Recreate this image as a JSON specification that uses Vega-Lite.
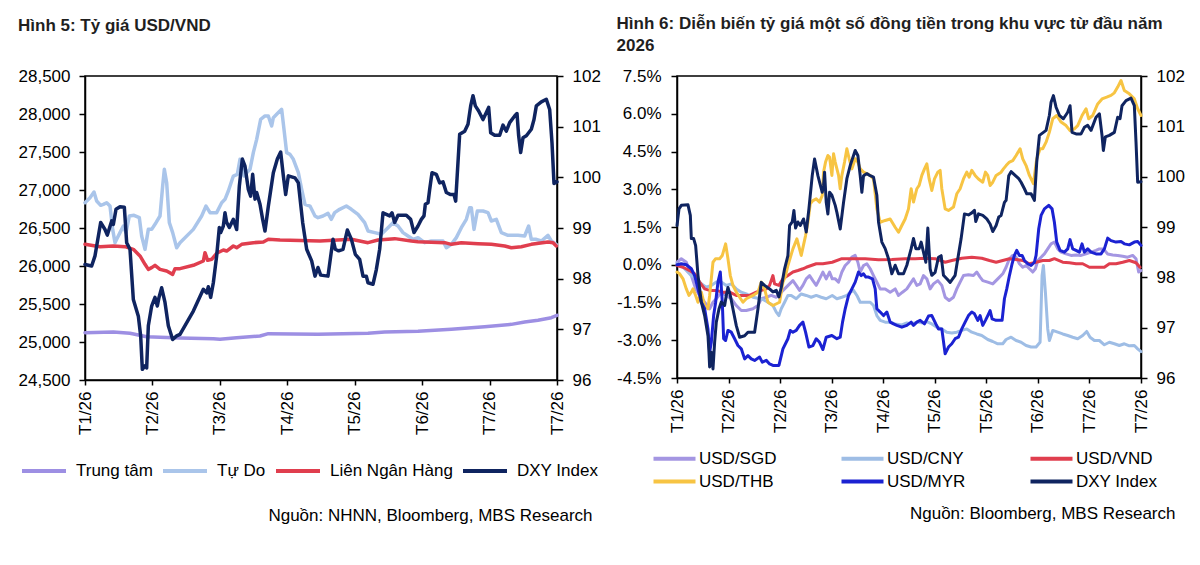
{
  "$schema": "https://vega.github.io/schema/vega-lite/v6.json",
  "background": "white",
  "padding": {"left": 17, "top": 14, "right": 0, "bottom": 0},
  "spacing": 13,
  "config": {
    "font": "Liberation Sans",
    "view": {"stroke": "#000", "strokeWidth": 1.5},
    "axis": {"labelFontSize": 17, "labelColor": "#000", "domainColor": "#000", "domainWidth": 1.5, "tickColor": "#000", "tickWidth": 1.5, "tickSize": 6, "grid": false, "labelFlush": false, "labelOverlap": false},
    "legend": {"labelFontSize": 17, "labelColor": "#000", "symbolType": "stroke", "symbolStrokeWidth": 4, "labelOffset": 6},
    "title": {"fontSize": 17, "fontWeight": "bold", "color": "#1f1f1f", "anchor": "start", "frame": "bounds", "lineHeight": 22},
    "line": {"strokeJoin": "round", "strokeCap": "round"}
  },
  "resolve": {"scale": {"color": "independent"}},
  "datasets": {
    "tt": [{"t":0,"v":25123},{"t":85,"v":25132},{"t":135,"v":25114},{"t":185,"v":25070},{"t":285,"v":25053},{"t":385,"v":25044},{"t":405,"v":25035},{"t":455,"v":25057},{"t":525,"v":25079},{"t":550,"v":25110},{"t":699,"v":25101},{"t":849,"v":25114},{"t":899,"v":25132},{"t":999,"v":25140},{"t":1099,"v":25167},{"t":1199,"v":25202},{"t":1279,"v":25232},{"t":1319,"v":25263},{"t":1359,"v":25285},{"t":1399,"v":25320},{"t":1416,"v":25351}],
    "td": [{"t":0,"v":26833},{"t":15,"v":26899},{"t":27,"v":26974},{"t":35,"v":26855},{"t":47,"v":26798},{"t":55,"v":26811},{"t":65,"v":26833},{"t":75,"v":26789},{"t":83,"v":26482},{"t":90,"v":26307},{"t":95,"v":26351},{"t":105,"v":26439},{"t":115,"v":26526},{"t":123,"v":26439},{"t":133,"v":26658},{"t":147,"v":26667},{"t":163,"v":26636},{"t":170,"v":26395},{"t":180,"v":26219},{"t":190,"v":26482},{"t":200,"v":26482},{"t":213,"v":26570},{"t":225,"v":26658},{"t":233,"v":27053},{"t":238,"v":27272},{"t":245,"v":27096},{"t":253,"v":26570},{"t":263,"v":26439},{"t":275,"v":26241},{"t":285,"v":26307},{"t":325,"v":26482},{"t":350,"v":26658},{"t":363,"v":26789},{"t":375,"v":26702},{"t":395,"v":26702},{"t":410,"v":26833},{"t":420,"v":26877},{"t":430,"v":26987},{"t":445,"v":27184},{"t":457,"v":27206},{"t":465,"v":27404},{"t":477,"v":27184},{"t":485,"v":27228},{"t":495,"v":27272},{"t":505,"v":27491},{"t":515,"v":27667},{"t":527,"v":27930},{"t":540,"v":27974},{"t":550,"v":27974},{"t":560,"v":27842},{"t":565,"v":27952},{"t":575,"v":27996},{"t":590,"v":28061},{"t":597,"v":27798},{"t":605,"v":27491},{"t":615,"v":27469},{"t":625,"v":27404},{"t":640,"v":27228},{"t":650,"v":27009},{"t":660,"v":26811},{"t":675,"v":26789},{"t":690,"v":26658},{"t":699,"v":26636},{"t":714,"v":26658},{"t":729,"v":26693},{"t":739,"v":26614},{"t":749,"v":26702},{"t":764,"v":26746},{"t":784,"v":26789},{"t":799,"v":26746},{"t":819,"v":26680},{"t":839,"v":26570},{"t":849,"v":26461},{"t":869,"v":26439},{"t":889,"v":26417},{"t":909,"v":26504},{"t":924,"v":26570},{"t":939,"v":26526},{"t":954,"v":26439},{"t":969,"v":26395},{"t":984,"v":26351},{"t":999,"v":26373},{"t":1019,"v":26307},{"t":1039,"v":26329},{"t":1074,"v":26329},{"t":1084,"v":26241},{"t":1099,"v":26285},{"t":1114,"v":26373},{"t":1129,"v":26504},{"t":1144,"v":26614},{"t":1154,"v":26768},{"t":1159,"v":26768},{"t":1167,"v":26482},{"t":1177,"v":26724},{"t":1194,"v":26724},{"t":1209,"v":26702},{"t":1219,"v":26592},{"t":1234,"v":26614},{"t":1249,"v":26439},{"t":1269,"v":26404},{"t":1299,"v":26404},{"t":1319,"v":26395},{"t":1331,"v":26526},{"t":1339,"v":26351},{"t":1354,"v":26351},{"t":1369,"v":26329},{"t":1389,"v":26404},{"t":1399,"v":26329},{"t":1414,"v":26285}],
    "lnh": [{"t":0,"v":26285},{"t":45,"v":26254},{"t":85,"v":26263},{"t":120,"v":26254},{"t":145,"v":26219},{"t":165,"v":26132},{"t":180,"v":26022},{"t":190,"v":25956},{"t":200,"v":25978},{"t":210,"v":26009},{"t":225,"v":25956},{"t":245,"v":25934},{"t":263,"v":25890},{"t":270,"v":25965},{"t":285,"v":25965},{"t":325,"v":26009},{"t":355,"v":26066},{"t":360,"v":26175},{"t":368,"v":26075},{"t":380,"v":26088},{"t":395,"v":26167},{"t":415,"v":26211},{"t":425,"v":26197},{"t":445,"v":26263},{"t":455,"v":26241},{"t":470,"v":26285},{"t":505,"v":26307},{"t":535,"v":26316},{"t":550,"v":26351},{"t":585,"v":26342},{"t":705,"v":26329},{"t":799,"v":26351},{"t":849,"v":26307},{"t":879,"v":26342},{"t":929,"v":26360},{"t":979,"v":26329},{"t":999,"v":26320},{"t":1079,"v":26307},{"t":1099,"v":26285},{"t":1129,"v":26307},{"t":1179,"v":26294},{"t":1219,"v":26285},{"t":1259,"v":26263},{"t":1279,"v":26241},{"t":1309,"v":26254},{"t":1339,"v":26285},{"t":1389,"v":26316},{"t":1404,"v":26307},{"t":1414,"v":26263}],
    "dxy5": [{"t":0,"v":98.28},{"t":20,"v":98.25},{"t":30,"v":98.45},{"t":47,"v":99.11},{"t":60,"v":98.97},{"t":67,"v":98.86},{"t":80,"v":99.14},{"t":85,"v":99.07},{"t":93,"v":99.37},{"t":105,"v":99.42},{"t":118,"v":99.41},{"t":125,"v":98.71},{"t":135,"v":98.58},{"t":145,"v":97.59},{"t":160,"v":97.26},{"t":167,"v":96.87},{"t":172,"v":96.21},{"t":180,"v":96.28},{"t":185,"v":96.24},{"t":190,"v":97.07},{"t":200,"v":97.46},{"t":210,"v":97.63},{"t":217,"v":97.46},{"t":222,"v":97.63},{"t":230,"v":97.82},{"t":240,"v":97.53},{"t":250,"v":97.07},{"t":263,"v":96.8},{"t":275,"v":96.87},{"t":285,"v":96.9},{"t":325,"v":97.36},{"t":355,"v":97.79},{"t":365,"v":97.72},{"t":370,"v":97.84},{"t":377,"v":97.63},{"t":385,"v":97.92},{"t":395,"v":98.45},{"t":403,"v":99.01},{"t":407,"v":98.91},{"t":415,"v":99.04},{"t":420,"v":99.3},{"t":425,"v":99.11},{"t":433,"v":99.01},{"t":445,"v":99.17},{"t":455,"v":98.97},{"t":463,"v":99.83},{"t":472,"v":100.36},{"t":480,"v":100.22},{"t":490,"v":99.76},{"t":497,"v":99.63},{"t":503,"v":100.06},{"t":510,"v":99.57},{"t":515,"v":99.7},{"t":525,"v":99.47},{"t":533,"v":99.17},{"t":540,"v":98.94},{"t":550,"v":99.43},{"t":565,"v":100.09},{"t":577,"v":100.36},{"t":587,"v":100.5},{"t":595,"v":100.03},{"t":602,"v":99.66},{"t":610,"v":100.03},{"t":630,"v":99.99},{"t":640,"v":99.89},{"t":653,"v":99.11},{"t":665,"v":98.58},{"t":680,"v":98.35},{"t":690,"v":98.05},{"t":699,"v":98.22},{"t":707,"v":98.07},{"t":729,"v":98.05},{"t":744,"v":98.78},{"t":751,"v":98.58},{"t":761,"v":98.55},{"t":774,"v":98.58},{"t":787,"v":98.96},{"t":799,"v":98.78},{"t":811,"v":98.48},{"t":824,"v":98.38},{"t":834,"v":98.05},{"t":844,"v":98.05},{"t":849,"v":97.92},{"t":864,"v":97.89},{"t":874,"v":98.18},{"t":884,"v":98.58},{"t":894,"v":99.3},{"t":904,"v":99.27},{"t":914,"v":99.24},{"t":921,"v":99.3},{"t":929,"v":99.11},{"t":939,"v":99.25},{"t":964,"v":99.25},{"t":977,"v":99.17},{"t":987,"v":98.91},{"t":999,"v":99.04},{"t":1009,"v":99.17},{"t":1017,"v":99.24},{"t":1021,"v":99.47},{"t":1029,"v":99.5},{"t":1034,"v":99.76},{"t":1041,"v":100.09},{"t":1054,"v":100.06},{"t":1064,"v":99.89},{"t":1074,"v":99.91},{"t":1084,"v":99.7},{"t":1097,"v":99.66},{"t":1107,"v":99.66},{"t":1112,"v":99.53},{"t":1124,"v":100.85},{"t":1139,"v":100.91},{"t":1149,"v":101.05},{"t":1157,"v":101.41},{"t":1164,"v":101.61},{"t":1171,"v":101.41},{"t":1181,"v":101.31},{"t":1194,"v":101.14},{"t":1204,"v":101.28},{"t":1211,"v":101.38},{"t":1217,"v":100.88},{"t":1229,"v":100.83},{"t":1244,"v":100.83},{"t":1254,"v":101.03},{"t":1264,"v":100.91},{"t":1274,"v":101.08},{"t":1289,"v":101.21},{"t":1296,"v":101.26},{"t":1301,"v":100.82},{"t":1307,"v":100.49},{"t":1314,"v":100.78},{"t":1324,"v":100.82},{"t":1339,"v":100.95},{"t":1347,"v":101.14},{"t":1354,"v":101.41},{"t":1369,"v":101.49},{"t":1384,"v":101.54},{"t":1394,"v":101.34},{"t":1401,"v":100.68},{"t":1407,"v":99.88},{"t":1416,"v":99.91}],
    "sgd": [{"t":0,"v":0.1},{"t":13,"v":0.24},{"t":28,"v":0.1},{"t":43,"v":-0.43},{"t":56,"v":-0.96},{"t":68,"v":-1.22},{"t":83,"v":-1.49},{"t":98,"v":-1.75},{"t":108,"v":-1.49},{"t":118,"v":-1.35},{"t":133,"v":-1.09},{"t":148,"v":-1.22},{"t":163,"v":-1.35},{"t":178,"v":-1.62},{"t":193,"v":-1.82},{"t":208,"v":-1.82},{"t":228,"v":-1.75},{"t":243,"v":-1.62},{"t":253,"v":-1.35},{"t":268,"v":-1.29},{"t":283,"v":-1.22},{"t":298,"v":-1.29},{"t":308,"v":-1.16},{"t":323,"v":-0.96},{"t":338,"v":-0.76},{"t":348,"v":-0.63},{"t":358,"v":-0.82},{"t":368,"v":-1.02},{"t":378,"v":-0.82},{"t":388,"v":-0.56},{"t":398,"v":-0.43},{"t":408,"v":-0.63},{"t":418,"v":-0.82},{"t":428,"v":-0.56},{"t":438,"v":-0.29},{"t":448,"v":-0.56},{"t":458,"v":-0.29},{"t":466,"v":-0.56},{"t":475,"v":-0.56},{"t":485,"v":-0.69},{"t":495,"v":-0.29},{"t":505,"v":-0.03},{"t":515,"v":0.1},{"t":525,"v":0.3},{"t":535,"v":0.37},{"t":543,"v":0.1},{"t":550,"v":-0.29},{"t":560,"v":-0.03},{"t":570,"v":0.04},{"t":580,"v":-0.16},{"t":590,"v":-0.43},{"t":600,"v":-0.69},{"t":610,"v":-0.96},{"t":625,"v":-0.96},{"t":640,"v":-1.09},{"t":655,"v":-0.96},{"t":665,"v":-1.22},{"t":677,"v":-1.09},{"t":690,"v":-0.96},{"t":700,"v":-0.76},{"t":710,"v":-0.56},{"t":720,"v":-0.82},{"t":730,"v":-0.76},{"t":740,"v":-0.43},{"t":750,"v":-0.56},{"t":760,"v":-0.96},{"t":770,"v":-0.76},{"t":783,"v":-0.63},{"t":795,"v":-0.82},{"t":805,"v":-1.29},{"t":817,"v":-1.42},{"t":830,"v":-1.29},{"t":840,"v":-0.96},{"t":850,"v":-0.69},{"t":860,"v":-0.43},{"t":875,"v":-0.4},{"t":890,"v":-0.43},{"t":900,"v":-0.29},{"t":910,"v":-0.49},{"t":918,"v":-0.63},{"t":933,"v":-0.69},{"t":948,"v":-0.76},{"t":963,"v":-0.56},{"t":978,"v":-0.36},{"t":988,"v":-0.1},{"t":998,"v":0.24},{"t":1008,"v":0.37},{"t":1018,"v":0.3},{"t":1028,"v":0.04},{"t":1038,"v":-0.1},{"t":1048,"v":-0.03},{"t":1058,"v":-0.16},{"t":1068,"v":-0.29},{"t":1076,"v":-0.16},{"t":1083,"v":0.17},{"t":1093,"v":0.3},{"t":1103,"v":0.43},{"t":1113,"v":0.63},{"t":1123,"v":0.83},{"t":1133,"v":0.9},{"t":1143,"v":0.63},{"t":1153,"v":0.5},{"t":1168,"v":0.43},{"t":1183,"v":0.37},{"t":1198,"v":0.39},{"t":1213,"v":0.37},{"t":1228,"v":0.43},{"t":1243,"v":0.5},{"t":1258,"v":0.57},{"t":1268,"v":0.63},{"t":1280,"v":0.63},{"t":1293,"v":0.43},{"t":1308,"v":0.39},{"t":1323,"v":0.37},{"t":1338,"v":0.34},{"t":1353,"v":0.3},{"t":1368,"v":0.37},{"t":1378,"v":0.24},{"t":1386,"v":-0.29},{"t":1393,"v":-0.23}],
    "cny": [{"t":0,"v":0.04},{"t":13,"v":-0.03},{"t":28,"v":-0.23},{"t":43,"v":-0.43},{"t":58,"v":-0.56},{"t":73,"v":-0.76},{"t":88,"v":-0.89},{"t":103,"v":-0.82},{"t":118,"v":-0.69},{"t":133,"v":-0.69},{"t":148,"v":-0.82},{"t":163,"v":-0.76},{"t":178,"v":-0.96},{"t":193,"v":-1.09},{"t":208,"v":-1.16},{"t":228,"v":-1.29},{"t":243,"v":-1.33},{"t":258,"v":-1.38},{"t":273,"v":-1.49},{"t":288,"v":-1.62},{"t":298,"v":-1.88},{"t":306,"v":-2.02},{"t":313,"v":-1.75},{"t":323,"v":-1.49},{"t":333,"v":-1.22},{"t":343,"v":-1.22},{"t":358,"v":-1.35},{"t":373,"v":-1.16},{"t":388,"v":-1.22},{"t":403,"v":-1.29},{"t":418,"v":-1.22},{"t":433,"v":-1.29},{"t":448,"v":-1.35},{"t":466,"v":-1.22},{"t":480,"v":-1.35},{"t":495,"v":-1.29},{"t":510,"v":-1.22},{"t":520,"v":-1.09},{"t":530,"v":-1.02},{"t":540,"v":-1.22},{"t":550,"v":-1.49},{"t":565,"v":-1.49},{"t":580,"v":-1.49},{"t":590,"v":-1.62},{"t":600,"v":-2.02},{"t":610,"v":-2.21},{"t":625,"v":-2.28},{"t":640,"v":-2.28},{"t":655,"v":-2.35},{"t":675,"v":-2.39},{"t":690,"v":-2.31},{"t":705,"v":-2.35},{"t":720,"v":-2.28},{"t":735,"v":-2.31},{"t":750,"v":-2.26},{"t":765,"v":-2.35},{"t":780,"v":-2.48},{"t":795,"v":-2.55},{"t":810,"v":-2.68},{"t":825,"v":-2.71},{"t":840,"v":-2.68},{"t":855,"v":-2.61},{"t":870,"v":-2.55},{"t":885,"v":-2.68},{"t":900,"v":-2.75},{"t":915,"v":-2.81},{"t":933,"v":-2.97},{"t":948,"v":-3.05},{"t":963,"v":-3.14},{"t":978,"v":-3.14},{"t":988,"v":-2.97},{"t":1003,"v":-2.88},{"t":1018,"v":-3.01},{"t":1033,"v":-3.08},{"t":1048,"v":-3.21},{"t":1063,"v":-3.27},{"t":1078,"v":-3.27},{"t":1090,"v":-3.08},{"t":1096,"v":-0.43},{"t":1100,"v":-0.03},{"t":1106,"v":-1.09},{"t":1113,"v":-2.55},{"t":1118,"v":-3.01},{"t":1128,"v":-2.61},{"t":1143,"v":-2.68},{"t":1158,"v":-2.75},{"t":1173,"v":-2.81},{"t":1188,"v":-2.88},{"t":1203,"v":-2.94},{"t":1218,"v":-2.81},{"t":1230,"v":-2.65},{"t":1240,"v":-2.88},{"t":1253,"v":-3.01},{"t":1268,"v":-3.01},{"t":1283,"v":-3.18},{"t":1298,"v":-3.08},{"t":1313,"v":-3.14},{"t":1328,"v":-3.21},{"t":1343,"v":-3.14},{"t":1358,"v":-3.22},{"t":1373,"v":-3.21},{"t":1383,"v":-3.34},{"t":1393,"v":-3.45}],
    "vnd": [{"t":0,"v":-0.03},{"t":18,"v":-0.1},{"t":38,"v":-0.23},{"t":53,"v":-0.36},{"t":68,"v":-0.69},{"t":83,"v":-0.96},{"t":98,"v":-1.02},{"t":118,"v":-1.02},{"t":138,"v":-1.09},{"t":158,"v":-1.09},{"t":178,"v":-1.22},{"t":198,"v":-1.22},{"t":218,"v":-1.22},{"t":238,"v":-1.09},{"t":253,"v":-1.02},{"t":268,"v":-0.96},{"t":278,"v":-0.82},{"t":288,"v":-0.43},{"t":293,"v":-0.76},{"t":306,"v":-0.82},{"t":318,"v":-0.56},{"t":333,"v":-0.43},{"t":348,"v":-0.29},{"t":363,"v":-0.23},{"t":378,"v":-0.16},{"t":388,"v":-0.1},{"t":403,"v":-0.03},{"t":418,"v":0.04},{"t":438,"v":0.04},{"t":466,"v":0.1},{"t":495,"v":0.24},{"t":525,"v":0.24},{"t":565,"v":0.24},{"t":605,"v":0.2},{"t":645,"v":0.21},{"t":685,"v":0.24},{"t":715,"v":0.24},{"t":745,"v":0.26},{"t":775,"v":0.24},{"t":805,"v":0.1},{"t":825,"v":0.17},{"t":855,"v":0.26},{"t":885,"v":0.3},{"t":915,"v":0.26},{"t":938,"v":0.17},{"t":958,"v":0.1},{"t":978,"v":0.17},{"t":998,"v":0.24},{"t":1018,"v":0.21},{"t":1038,"v":0.17},{"t":1058,"v":0.04},{"t":1078,"v":0.1},{"t":1098,"v":0.17},{"t":1118,"v":0.17},{"t":1133,"v":0.24},{"t":1158,"v":0.1},{"t":1178,"v":0.08},{"t":1198,"v":0.04},{"t":1218,"v":0.04},{"t":1238,"v":-0.1},{"t":1263,"v":-0.1},{"t":1283,"v":-0.1},{"t":1298,"v":0.04},{"t":1318,"v":0.04},{"t":1338,"v":0.1},{"t":1358,"v":0.17},{"t":1378,"v":0.08},{"t":1390,"v":-0.1}],
    "thb": [{"t":0,"v":-0.29},{"t":8,"v":-0.36},{"t":18,"v":-0.56},{"t":28,"v":-0.96},{"t":36,"v":-1.22},{"t":43,"v":-1.09},{"t":48,"v":-0.96},{"t":56,"v":-1.22},{"t":63,"v":-1.49},{"t":73,"v":-1.09},{"t":83,"v":-1.62},{"t":93,"v":-1.75},{"t":98,"v":-1.22},{"t":108,"v":0.1},{"t":116,"v":0.24},{"t":128,"v":0.24},{"t":136,"v":0.37},{"t":146,"v":0.83},{"t":153,"v":0.24},{"t":160,"v":-0.43},{"t":168,"v":-0.82},{"t":178,"v":-1.09},{"t":188,"v":-1.29},{"t":198,"v":-1.49},{"t":208,"v":-1.35},{"t":228,"v":-1.22},{"t":243,"v":-1.09},{"t":253,"v":-0.69},{"t":263,"v":-0.96},{"t":273,"v":-1.49},{"t":288,"v":-1.62},{"t":308,"v":-1.49},{"t":318,"v":-0.69},{"t":326,"v":-0.43},{"t":333,"v":-0.03},{"t":348,"v":0.63},{"t":360,"v":1.03},{"t":373,"v":0.37},{"t":386,"v":1.16},{"t":393,"v":1.69},{"t":400,"v":2.42},{"t":408,"v":2.55},{"t":418,"v":2.62},{"t":428,"v":2.49},{"t":436,"v":2.75},{"t":440,"v":3.68},{"t":446,"v":4.08},{"t":453,"v":4.34},{"t":458,"v":4.28},{"t":465,"v":3.55},{"t":470,"v":4.41},{"t":475,"v":4.08},{"t":485,"v":3.55},{"t":490,"v":3.02},{"t":495,"v":3.55},{"t":503,"v":4.08},{"t":510,"v":4.61},{"t":517,"v":4.21},{"t":525,"v":3.81},{"t":535,"v":4.21},{"t":543,"v":4.08},{"t":550,"v":3.81},{"t":560,"v":3.68},{"t":580,"v":3.55},{"t":590,"v":3.41},{"t":600,"v":2.22},{"t":610,"v":1.69},{"t":625,"v":1.76},{"t":640,"v":1.82},{"t":655,"v":1.49},{"t":665,"v":1.29},{"t":675,"v":1.56},{"t":685,"v":1.82},{"t":695,"v":2.22},{"t":703,"v":3.02},{"t":710,"v":2.49},{"t":720,"v":3.02},{"t":727,"v":3.15},{"t":735,"v":3.55},{"t":743,"v":3.81},{"t":750,"v":4.01},{"t":757,"v":3.41},{"t":765,"v":2.95},{"t":773,"v":3.41},{"t":783,"v":3.68},{"t":790,"v":3.75},{"t":795,"v":3.02},{"t":805,"v":2.22},{"t":815,"v":2.16},{"t":830,"v":2.29},{"t":840,"v":2.82},{"t":850,"v":3.02},{"t":860,"v":3.41},{"t":870,"v":3.68},{"t":877,"v":3.48},{"t":885,"v":3.75},{"t":895,"v":3.55},{"t":905,"v":3.41},{"t":918,"v":3.28},{"t":926,"v":3.68},{"t":933,"v":3.55},{"t":940,"v":3.15},{"t":948,"v":3.28},{"t":958,"v":3.55},{"t":973,"v":3.68},{"t":980,"v":3.81},{"t":988,"v":3.94},{"t":998,"v":4.08},{"t":1008,"v":4.14},{"t":1018,"v":4.34},{"t":1030,"v":4.61},{"t":1038,"v":4.21},{"t":1048,"v":3.94},{"t":1058,"v":3.55},{"t":1070,"v":3.22},{"t":1080,"v":4.21},{"t":1090,"v":4.61},{"t":1098,"v":4.61},{"t":1108,"v":4.87},{"t":1118,"v":5.27},{"t":1128,"v":5.8},{"t":1140,"v":5.93},{"t":1153,"v":5.67},{"t":1168,"v":5.53},{"t":1180,"v":5.33},{"t":1193,"v":5.4},{"t":1203,"v":5.53},{"t":1216,"v":5.93},{"t":1228,"v":6.2},{"t":1236,"v":5.8},{"t":1248,"v":5.93},{"t":1263,"v":6.39},{"t":1276,"v":6.59},{"t":1290,"v":6.66},{"t":1303,"v":6.73},{"t":1313,"v":6.83},{"t":1323,"v":7.06},{"t":1333,"v":7.32},{"t":1343,"v":6.92},{"t":1358,"v":6.79},{"t":1373,"v":6.59},{"t":1383,"v":6.2},{"t":1393,"v":5.93}],
    "myr": [{"t":0,"v":0},{"t":13,"v":0.04},{"t":28,"v":0},{"t":43,"v":-0.16},{"t":53,"v":-0.43},{"t":63,"v":-0.96},{"t":73,"v":-1.49},{"t":83,"v":-1.75},{"t":93,"v":-2.55},{"t":98,"v":-3.47},{"t":103,"v":-3.08},{"t":110,"v":-2.02},{"t":116,"v":-1.49},{"t":123,"v":-0.69},{"t":130,"v":-0.29},{"t":136,"v":-1.49},{"t":140,"v":-2.94},{"t":146,"v":-3.01},{"t":153,"v":-2.61},{"t":163,"v":-2.68},{"t":173,"v":-2.94},{"t":183,"v":-3.21},{"t":193,"v":-3.34},{"t":203,"v":-3.74},{"t":213,"v":-3.61},{"t":223,"v":-3.74},{"t":233,"v":-3.8},{"t":248,"v":-3.67},{"t":256,"v":-3.87},{"t":268,"v":-3.8},{"t":278,"v":-3.94},{"t":288,"v":-4},{"t":306,"v":-4},{"t":318,"v":-3.34},{"t":333,"v":-2.94},{"t":340,"v":-2.61},{"t":348,"v":-2.68},{"t":358,"v":-2.61},{"t":368,"v":-2.41},{"t":378,"v":-2.28},{"t":386,"v":-2.68},{"t":396,"v":-3.27},{"t":408,"v":-3.21},{"t":418,"v":-2.94},{"t":428,"v":-3.08},{"t":438,"v":-3.37},{"t":448,"v":-2.88},{"t":465,"v":-2.81},{"t":480,"v":-2.94},{"t":490,"v":-2.88},{"t":497,"v":-2.28},{"t":505,"v":-1.75},{"t":515,"v":-1.22},{"t":525,"v":-0.96},{"t":535,"v":-0.69},{"t":545,"v":-0.29},{"t":553,"v":-0.43},{"t":560,"v":-0.36},{"t":567,"v":-0.49},{"t":575,"v":-0.49},{"t":587,"v":-0.56},{"t":595,"v":-0.96},{"t":600,"v":-1.75},{"t":610,"v":-1.88},{"t":620,"v":-2.02},{"t":630,"v":-1.88},{"t":640,"v":-2.28},{"t":650,"v":-2.35},{"t":660,"v":-2.41},{"t":675,"v":-2.48},{"t":690,"v":-2.41},{"t":703,"v":-2.28},{"t":710,"v":-2.41},{"t":720,"v":-2.28},{"t":730,"v":-2.21},{"t":743,"v":-2.35},{"t":755,"v":-2.04},{"t":765,"v":-2.02},{"t":777,"v":-2.35},{"t":785,"v":-2.55},{"t":795,"v":-2.55},{"t":805,"v":-3.54},{"t":815,"v":-3.27},{"t":825,"v":-3.14},{"t":835,"v":-2.94},{"t":845,"v":-2.88},{"t":855,"v":-2.55},{"t":865,"v":-2.28},{"t":875,"v":-2.02},{"t":885,"v":-1.88},{"t":893,"v":-1.95},{"t":903,"v":-2.21},{"t":910,"v":-2.02},{"t":918,"v":-2.41},{"t":926,"v":-2.21},{"t":933,"v":-2.02},{"t":940,"v":-1.82},{"t":946,"v":-2.15},{"t":958,"v":-2.21},{"t":976,"v":-2.21},{"t":983,"v":-1.35},{"t":990,"v":-0.96},{"t":998,"v":-0.43},{"t":1006,"v":0.04},{"t":1013,"v":0.37},{"t":1020,"v":0.57},{"t":1028,"v":0.37},{"t":1036,"v":0.37},{"t":1043,"v":0.17},{"t":1053,"v":0.04},{"t":1063,"v":-0.03},{"t":1073,"v":0.1},{"t":1078,"v":0.37},{"t":1086,"v":1.43},{"t":1093,"v":1.96},{"t":1103,"v":2.22},{"t":1116,"v":2.36},{"t":1126,"v":2.22},{"t":1133,"v":1.69},{"t":1140,"v":0.9},{"t":1150,"v":0.57},{"t":1163,"v":0.5},{"t":1173,"v":0.63},{"t":1180,"v":1},{"t":1188,"v":0.63},{"t":1198,"v":0.57},{"t":1208,"v":0.5},{"t":1216,"v":0.83},{"t":1223,"v":0.5},{"t":1233,"v":0.63},{"t":1243,"v":0.5},{"t":1258,"v":0.43},{"t":1273,"v":0.43},{"t":1283,"v":0.63},{"t":1293,"v":1.06},{"t":1303,"v":0.96},{"t":1318,"v":0.9},{"t":1333,"v":0.92},{"t":1343,"v":0.83},{"t":1358,"v":0.79},{"t":1373,"v":0.9},{"t":1383,"v":0.92},{"t":1393,"v":0.77}],
    "dxy6": [{"t":0,"v":99.03},{"t":6,"v":99.36},{"t":13,"v":99.43},{"t":33,"v":99.44},{"t":40,"v":99.23},{"t":43,"v":98.77},{"t":50,"v":98.77},{"t":56,"v":98.63},{"t":63,"v":98.04},{"t":73,"v":97.51},{"t":83,"v":97.24},{"t":93,"v":96.84},{"t":96,"v":96.51},{"t":98,"v":96.22},{"t":103,"v":96.51},{"t":108,"v":96.18},{"t":113,"v":96.71},{"t":118,"v":97.11},{"t":126,"v":97.37},{"t":133,"v":97.51},{"t":143,"v":97.44},{"t":148,"v":97.64},{"t":153,"v":97.8},{"t":160,"v":97.64},{"t":168,"v":97.37},{"t":178,"v":97.04},{"t":188,"v":96.81},{"t":203,"v":96.84},{"t":213,"v":96.91},{"t":233,"v":96.91},{"t":243,"v":97.37},{"t":253,"v":97.9},{"t":263,"v":97.84},{"t":278,"v":97.77},{"t":288,"v":97.71},{"t":298,"v":97.74},{"t":306,"v":97.61},{"t":313,"v":97.8},{"t":323,"v":98.17},{"t":333,"v":98.43},{"t":338,"v":99.03},{"t":346,"v":99.1},{"t":351,"v":99.33},{"t":356,"v":98.98},{"t":363,"v":99.1},{"t":370,"v":99.03},{"t":380,"v":99.16},{"t":388,"v":98.9},{"t":396,"v":99.36},{"t":406,"v":100.02},{"t":413,"v":100.35},{"t":423,"v":100.02},{"t":428,"v":99.89},{"t":436,"v":99.69},{"t":440,"v":99.82},{"t":443,"v":100.09},{"t":448,"v":99.49},{"t":453,"v":99.26},{"t":458,"v":99.69},{"t":465,"v":99.63},{"t":475,"v":99.43},{"t":480,"v":99.29},{"t":490,"v":98.96},{"t":500,"v":99.49},{"t":510,"v":99.96},{"t":520,"v":100.22},{"t":535,"v":100.52},{"t":543,"v":100.42},{"t":550,"v":100.02},{"t":555,"v":99.69},{"t":560,"v":100.02},{"t":570,"v":100.06},{"t":580,"v":100.02},{"t":590,"v":99.99},{"t":600,"v":99.63},{"t":605,"v":99.1},{"t":615,"v":98.7},{"t":625,"v":98.57},{"t":635,"v":98.37},{"t":645,"v":98.07},{"t":655,"v":98.24},{"t":665,"v":98.07},{"t":680,"v":98.07},{"t":690,"v":98.24},{"t":703,"v":98.57},{"t":710,"v":98.77},{"t":717,"v":98.57},{"t":727,"v":98.57},{"t":733,"v":98.7},{"t":740,"v":98.5},{"t":747,"v":98.3},{"t":753,"v":98.98},{"t":760,"v":98.17},{"t":765,"v":98.04},{"t":775,"v":98.1},{"t":785,"v":98.4},{"t":793,"v":98.43},{"t":800,"v":98.04},{"t":810,"v":97.97},{"t":820,"v":97.9},{"t":835,"v":98.04},{"t":843,"v":98.37},{"t":853,"v":98.77},{"t":863,"v":99.26},{"t":875,"v":99.24},{"t":885,"v":99.28},{"t":893,"v":99.33},{"t":897,"v":99.11},{"t":905,"v":99.26},{"t":918,"v":99.23},{"t":930,"v":99.16},{"t":940,"v":99.06},{"t":948,"v":98.91},{"t":958,"v":99.03},{"t":966,"v":99.2},{"t":973,"v":99.23},{"t":978,"v":99.36},{"t":983,"v":99.49},{"t":988,"v":99.53},{"t":996,"v":100.02},{"t":1003,"v":100.1},{"t":1016,"v":100.02},{"t":1026,"v":99.96},{"t":1033,"v":99.89},{"t":1043,"v":99.76},{"t":1050,"v":99.66},{"t":1063,"v":99.66},{"t":1073,"v":99.53},{"t":1080,"v":100.29},{"t":1088,"v":100.82},{"t":1098,"v":100.87},{"t":1108,"v":100.92},{"t":1118,"v":101.22},{"t":1123,"v":101.48},{"t":1130,"v":101.61},{"t":1138,"v":101.38},{"t":1148,"v":101.22},{"t":1160,"v":101.15},{"t":1173,"v":101.28},{"t":1180,"v":101.41},{"t":1186,"v":100.88},{"t":1198,"v":100.85},{"t":1213,"v":100.85},{"t":1223,"v":100.98},{"t":1233,"v":101.02},{"t":1243,"v":100.92},{"t":1258,"v":101.18},{"t":1268,"v":101.25},{"t":1276,"v":100.82},{"t":1280,"v":100.52},{"t":1286,"v":100.79},{"t":1298,"v":100.82},{"t":1313,"v":100.88},{"t":1323,"v":101.18},{"t":1330,"v":101.15},{"t":1336,"v":101.41},{"t":1348,"v":101.51},{"t":1363,"v":101.56},{"t":1373,"v":101.41},{"t":1378,"v":100.69},{"t":1383,"v":99.89},{"t":1393,"v":99.9}]
  },
  "hconcat": [
    {
      "title": {"text": "Hình 5: Tỷ giá USD/VND", "offset": 32},
      "width": 472,
      "height": 304,
      "encoding": {
        "x": {
          "field": "t", "type": "quantitative",
          "scale": {"domain": [0, 1416], "nice": false, "zero": false},
          "axis": {
            "values": [0, 202.29, 404.57, 606.86, 809.14, 1011.43, 1213.71, 1416],
            "labelExpr": "['T1/26','T2/26','T3/26','T4/26','T5/26','T6/26','T7/26','T7/26'][round(datum.value / 202.29)]",
            "labelAngle": -90, "labelPadding": 6, "tickSize": 5,
            "title": "Nguồn: NHNN, Bloomberg, MBS Research",
            "titleFontSize": 17, "titleFontWeight": "normal", "titleColor": "#000",
            "titleAlign": "right", "titleBaseline": "middle", "titleX": 507, "titleY": 135
          }
        }
      },
      "layer": [
        {
          "encoding": {
            "y": {
              "field": "v", "type": "quantitative",
              "scale": {"domain": [24500, 28500], "nice": false, "zero": false},
              "axis": {"values": [24500, 25000, 25500, 26000, 26500, 27000, 27500, 28000, 28500], "format": ",.0f", "labelPadding": 9, "title": null}
            }
          },
          "layer": [
            {
              "data": {"name": "tt"},
              "mark": {"type": "line", "strokeWidth": 3.5},
              "encoding": {
                "color": {
                  "datum": "Trung tâm", "type": "nominal",
                  "scale": {"domain": ["Trung tâm", "Tự Do", "Liên Ngân Hàng", "DXY Index"], "range": ["#9d8fe3", "#aac5ea", "#e03e4e", "#0f2460"]},
                  "legend": {"orient": "none", "legendX": -65, "legendY": 371, "direction": "horizontal", "columns": 4, "columnPadding": 8, "symbolSize": 1936, "labelOffset": 8, "title": null}
                }
              }
            },
            {"data": {"name": "td"}, "mark": {"type": "line", "strokeWidth": 3.5}, "encoding": {"color": {"datum": "Tự Do", "type": "nominal"}}},
            {"data": {"name": "lnh"}, "mark": {"type": "line", "strokeWidth": 3.5}, "encoding": {"color": {"datum": "Liên Ngân Hàng", "type": "nominal"}}}
          ]
        },
        {
          "data": {"name": "dxy5"},
          "mark": {"type": "line", "strokeWidth": 3.5},
          "encoding": {
            "y": {
              "field": "v", "type": "quantitative",
              "scale": {"domain": [96, 102], "nice": false, "zero": false},
              "axis": {"orient": "right", "values": [96, 97, 98, 99, 100, 101, 102], "labelPadding": 9, "title": null}
            },
            "color": {"datum": "DXY Index", "type": "nominal"}
          }
        }
      ],
      "resolve": {"scale": {"y": "independent"}}
    },
    {
      "title": {"text": ["Hình 6: Diễn biến tỷ giá một số đồng tiền trong khu vực từ đầu năm", "2026"], "offset": 12},
      "width": 464,
      "height": 302,
      "encoding": {
        "x": {
          "field": "t", "type": "quantitative",
          "scale": {"domain": [0, 1393], "nice": false, "zero": false},
          "axis": {
            "values": [0, 154.78, 309.56, 464.33, 619.11, 773.89, 928.67, 1083.44, 1238.22, 1393],
            "labelExpr": "['T1/26','T2/26','T2/26','T3/26','T4/26','T5/26','T5/26','T6/26','T7/26','T7/26'][round(datum.value / 154.78)]",
            "labelAngle": -90, "labelPadding": 6, "tickSize": 5,
            "title": "Nguồn: Bloomberg, MBS Research",
            "titleFontSize": 17, "titleFontWeight": "normal", "titleColor": "#000",
            "titleAlign": "right", "titleBaseline": "middle", "titleX": 498, "titleY": 135
          }
        }
      },
      "layer": [
        {
          "encoding": {
            "y": {
              "field": "v", "type": "quantitative",
              "scale": {"domain": [-4.5, 7.5], "nice": false, "zero": false},
              "axis": {"values": [-4.5, -3, -1.5, 0, 1.5, 3, 4.5, 6, 7.5], "labelExpr": "replace(format(datum.value, '.1f'), '\u2212', '-') + '%'", "labelPadding": 10, "title": null}
            }
          },
          "layer": [
            {
              "data": {"values": [{"v": 0}]},
              "mark": {"type": "rule", "color": "#5b86c0", "strokeWidth": 1.5},
              "encoding": {"y": {"field": "v", "type": "quantitative"}}
            },
            {
              "data": {"name": "sgd"},
              "mark": {"type": "line", "strokeWidth": 3},
              "encoding": {
                "color": {
                  "datum": "USD/SGD", "type": "nominal",
                  "scale": {"domain": ["USD/SGD", "USD/CNY", "USD/VND", "USD/THB", "USD/MYR", "DXY Index"], "range": ["#a496e2", "#9ebde5", "#e03e4e", "#f7c443", "#1b22d2", "#0f2460"]},
                  "legend": {"orient": "none", "legendX": -15, "legendY": 370, "direction": "horizontal", "columns": 3, "columnPadding": 62, "rowPadding": 2, "symbolType": "M-2,0H2", "symbolSize": 441, "labelOffset": 12, "title": null}
                }
              }
            },
            {"data": {"name": "cny"}, "mark": {"type": "line", "strokeWidth": 3}, "encoding": {"color": {"datum": "USD/CNY", "type": "nominal"}}},
            {"data": {"name": "vnd"}, "mark": {"type": "line", "strokeWidth": 3}, "encoding": {"color": {"datum": "USD/VND", "type": "nominal"}}},
            {"data": {"name": "thb"}, "mark": {"type": "line", "strokeWidth": 3}, "encoding": {"color": {"datum": "USD/THB", "type": "nominal"}}},
            {"data": {"name": "myr"}, "mark": {"type": "line", "strokeWidth": 3}, "encoding": {"color": {"datum": "USD/MYR", "type": "nominal"}}}
          ]
        },
        {
          "data": {"name": "dxy6"},
          "mark": {"type": "line", "strokeWidth": 3},
          "encoding": {
            "y": {
              "field": "v", "type": "quantitative",
              "scale": {"domain": [96, 102], "nice": false, "zero": false},
              "axis": {"orient": "right", "values": [96, 97, 98, 99, 100, 101, 102], "labelPadding": 9, "title": null}
            },
            "color": {"datum": "DXY Index", "type": "nominal"}
          }
        }
      ],
      "resolve": {"scale": {"y": "independent"}}
    }
  ]
}
